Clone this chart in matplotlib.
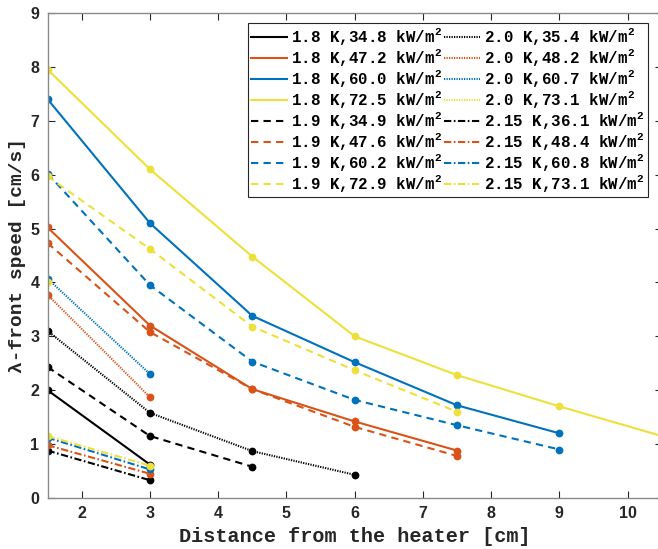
import matplotlib
matplotlib.use("Agg")
import matplotlib.pyplot as plt

BLACK = "#000000"
ORANGE = "#D95319"
BLUE = "#0072BD"
YELLOW = "#EDE03A"

x_18_348 = [1.5, 3.0]
y_18_348 = [2.00, 0.62]
x_18_472 = [1.5, 3.0, 4.5, 6.0, 7.5]
y_18_472 = [5.02, 3.20, 2.02, 1.42, 0.88]
x_18_600 = [1.5, 3.0, 4.5, 6.0, 7.5, 9.0]
y_18_600 = [7.40, 5.10, 3.38, 2.52, 1.72, 1.20]
x_18_725 = [1.5, 3.0, 4.5, 6.0, 7.5, 9.0, 10.5]
y_18_725 = [7.95, 6.10, 4.48, 3.00, 2.28, 1.70, 1.15]

x_19_349 = [1.5, 3.0, 4.5]
y_19_349 = [2.43, 1.15, 0.58]
x_19_476 = [1.5, 3.0, 4.5, 6.0, 7.5]
y_19_476 = [4.73, 3.08, 2.02, 1.32, 0.78]
x_19_602 = [1.5, 3.0, 4.5, 6.0, 7.5, 9.0]
y_19_602 = [6.02, 3.95, 2.53, 1.82, 1.35, 0.90]
x_19_729 = [1.5, 3.0, 4.5, 6.0, 7.5]
y_19_729 = [5.97, 4.62, 3.18, 2.37, 1.60]

x_20_354 = [1.5, 3.0, 4.5, 6.0]
y_20_354 = [3.10, 1.58, 0.87, 0.43]
x_20_482 = [1.5, 3.0]
y_20_482 = [3.77, 1.87]
x_20_607 = [1.5, 3.0]
y_20_607 = [4.07, 2.30]
x_20_731 = [1.5]
y_20_731 = [4.00]

x_215_361 = [1.5, 3.0]
y_215_361 = [0.88, 0.33]
x_215_484 = [1.5, 3.0]
y_215_484 = [0.98, 0.45]
x_215_608 = [1.5, 3.0]
y_215_608 = [1.12, 0.53]
x_215_731 = [1.5, 3.0]
y_215_731 = [1.15, 0.60]

DASH = (0, (3.5, 2.5))
DOT = (0, (0.6, 0.6))
DASHDOT = (0, (3.5, 1.2, 0.8, 1.2))

series = [
    ("1.8 K,34.8 kW/m$^2$", BLACK, "-", x_18_348, y_18_348),
    ("1.8 K,47.2 kW/m$^2$", ORANGE, "-", x_18_472, y_18_472),
    ("1.8 K,60.0 kW/m$^2$", BLUE, "-", x_18_600, y_18_600),
    ("1.8 K,72.5 kW/m$^2$", YELLOW, "-", x_18_725, y_18_725),
    ("1.9 K,34.9 kW/m$^2$", BLACK, DASH, x_19_349, y_19_349),
    ("1.9 K,47.6 kW/m$^2$", ORANGE, DASH, x_19_476, y_19_476),
    ("1.9 K,60.2 kW/m$^2$", BLUE, DASH, x_19_602, y_19_602),
    ("1.9 K,72.9 kW/m$^2$", YELLOW, DASH, x_19_729, y_19_729),
    ("2.0 K,35.4 kW/m$^2$", BLACK, DOT, x_20_354, y_20_354),
    ("2.0 K,48.2 kW/m$^2$", ORANGE, DOT, x_20_482, y_20_482),
    ("2.0 K,60.7 kW/m$^2$", BLUE, DOT, x_20_607, y_20_607),
    ("2.0 K,73.1 kW/m$^2$", YELLOW, DOT, x_20_731, y_20_731),
    ("2.15 K,36.1 kW/m$^2$", BLACK, DASHDOT, x_215_361, y_215_361),
    ("2.15 K,48.4 kW/m$^2$", ORANGE, DASHDOT, x_215_484, y_215_484),
    ("2.15 K,60.8 kW/m$^2$", BLUE, DASHDOT, x_215_608, y_215_608),
    ("2.15 K,73.1 kW/m$^2$", YELLOW, DASHDOT, x_215_731, y_215_731),
]

xticks = [2, 3, 4, 5, 6, 7, 8, 9, 10]
yticks = [0, 1, 2, 3, 4, 5, 6, 7, 8, 9]

plt.rcParams['mathtext.fontset'] = 'custom'
plt.rcParams['mathtext.rm'] = 'Liberation Mono:bold'
plt.rcParams['mathtext.it'] = 'Liberation Mono:bold'
plt.rcParams['mathtext.bf'] = 'Liberation Mono:bold'

fig = plt.figure(figsize=(6.58, 5.49), dpi=100)
ax = fig.add_axes([47.6 / 658, 1 - 498 / 549, (661.8 - 47.6) / 658, (498 - 13) / 549])

handles = []
for label, color, ls, xs, ys in series:
    h, = ax.plot(xs, ys, linestyle=ls, color=color, lw=1.5, marker='o',
                 markersize=5.6, markeredgewidth=0, label=label)
    handles.append(h)

ax.set_xlim(1.5, 10.5)
ax.set_ylim(0, 9)
ax.set_xticks(xticks)
ax.set_yticks(yticks)
ax.tick_params(direction='in', length=5, width=0.8, top=True, right=True,
               color='#262626', pad=6)
for lab in ax.get_xticklabels() + ax.get_yticklabels():
    lab.set_fontfamily('Liberation Sans')
    lab.set_fontweight('bold')
    lab.set_fontsize(11.5)
    lab.set_color('#262626')
for sp in ax.spines.values():
    sp.set_color('#8a8a8a')
    sp.set_linewidth(1.0)

ax.set_xlabel("Distance from the heater [cm]", family='Liberation Mono',
              weight='bold', fontsize=14.5, color='#262626', labelpad=4)
ax.set_ylabel("λ-front speed [cm/s]", family=['Liberation Mono', 'DejaVu Sans'],
              weight='bold', fontsize=14, color='#262626', labelpad=3)

leg = fig.legend(handles=handles, ncol=2, loc='upper right',
                 bbox_to_anchor=(648 / 658, 1 - 23 / 549),
                 prop={'family': 'Liberation Mono', 'weight': 'bold', 'size': 11.4},
                 handlelength=2.3, handletextpad=0.25, columnspacing=0.1,
                 labelspacing=0.0, borderpad=0.2, borderaxespad=0,
                 fancybox=False, framealpha=1, edgecolor='#262626')
leg.get_frame().set_linewidth(0.8)
for lh in leg.legend_handles:
    lh.set_marker('')

fig.savefig("out.png", dpi=100)
